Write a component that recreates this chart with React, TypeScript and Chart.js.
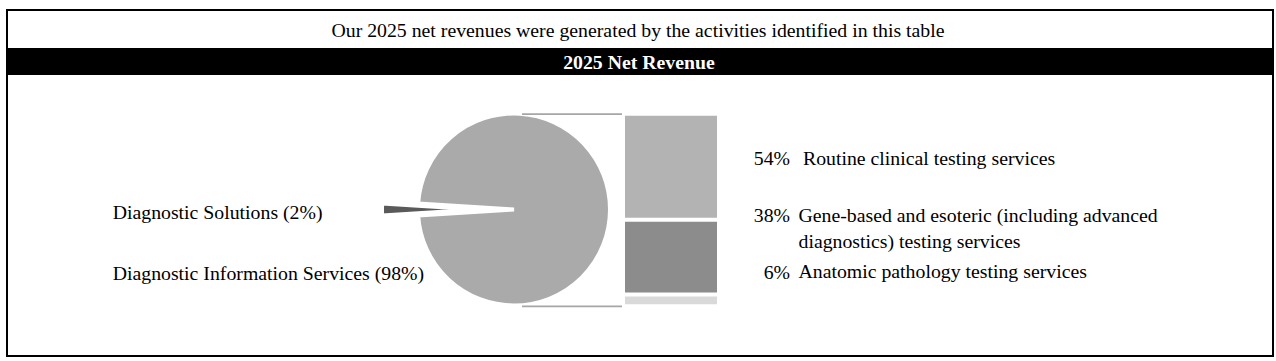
import React, { useEffect, useRef } from 'react';
import { Chart, registerables } from 'chart.js';

Chart.register(...registerables);

// ---------- data ----------
const TITLE = 'Our 2025 net revenues were generated by the activities identified in this table';
const HEADER = '2025 Net Revenue';

const pieLabels = ['Diagnostic Information Services', 'Diagnostic Solutions'];
const pieValues = [98, 2];
const pieColors = ['#aaaaaa', '#5a5a5a'];
const pieExplode = [0, 36];

const barLabels = [
  'Routine clinical testing services',
  'Gene-based and esoteric (including advanced diagnostics) testing services',
  'Anatomic pathology testing services',
];
const barValues = [54, 38, 6];
const barColors = ['#b3b3b3', '#8c8c8c', '#d9d9d9'];

// ---------- styling ----------
const FONT = '"Liberation Serif", "Times New Roman", Times, serif';
const FS = 19.8;

function Txt(props: {
  left: number;
  baseline: number;
  width?: number;
  align?: 'left' | 'right' | 'center';
  bold?: boolean;
  color?: string;
  lh?: number;
  children: React.ReactNode;
}) {
  const lh = props.lh ?? 20;
  const top = props.baseline - (lh / 2 + 0.3375 * FS);
  return (
    <div
      style={{
        position: 'absolute',
        left: props.left,
        top,
        width: props.width,
        textAlign: props.align ?? 'left',
        fontFamily: FONT,
        fontSize: FS,
        lineHeight: lh + 'px',
        fontWeight: props.bold ? 'bold' : 'normal',
        color: props.color ?? '#000',
        whiteSpace: props.width && props.align === 'left' ? 'normal' : 'nowrap',
      }}
    >
      {props.children}
    </div>
  );
}

const explodePlugin = {
  id: 'explode',
  beforeDatasetDraw(chart: any, args: any) {
    const ctx = chart.ctx;
    args.meta.data.forEach((arc: any, i: number) => {
      const d = pieExplode[i] || 0;
      const mid = (arc.startAngle + arc.endAngle) / 2;
      ctx.save();
      ctx.translate(Math.cos(mid) * d, Math.sin(mid) * d);
      arc.draw(ctx);
      ctx.restore();
    });
    return false;
  },
};

const connectorPlugin = {
  id: 'connector',
  afterDraw(chart: any) {
    const { ctx, chartArea: a } = chart;
    ctx.save();
    ctx.strokeStyle = '#a6a6a6';
    ctx.lineWidth = 1.8;
    ctx.beginPath();
    ctx.moveTo(a.left - 103, a.top + 0.5);
    ctx.lineTo(a.left - 3, a.top + 0.5);
    ctx.moveTo(a.left - 103, a.bottom);
    ctx.lineTo(a.left - 3, a.bottom);
    ctx.stroke();
    ctx.restore();
  },
};

function PieChart() {
  const ref = useRef<HTMLCanvasElement>(null);
  useEffect(() => {
    const total = pieValues.reduce((s, v) => s + v, 0);
    const chart = new Chart(ref.current!, {
      type: 'pie',
      data: {
        labels: pieLabels,
        datasets: [
          {
            data: pieValues,
            backgroundColor: pieColors,
            borderColor: '#ffffff',
            borderWidth: 4,
          },
        ],
      },
      options: {
        responsive: false,
        animation: false,
        events: [],
        radius: 96,
        rotation: 270 + (pieValues[1] / total) * 180,
        plugins: { legend: { display: false }, tooltip: { enabled: false } },
      } as any,
      plugins: [explodePlugin as any],
    });
    return () => chart.destroy();
  }, []);
  return (
    <canvas
      ref={ref}
      width={288}
      height={219}
      style={{ position: 'absolute', left: 370, top: 100, width: 288, height: 219 }}
    />
  );
}

function BarChart() {
  const ref = useRef<HTMLCanvasElement>(null);
  useEffect(() => {
    const total = barValues.reduce((s, v) => s + v, 0);
    const chart = new Chart(ref.current!, {
      type: 'bar',
      data: {
        labels: ['2025'],
        datasets: barValues.map((v, i) => ({
          label: barLabels[i],
          data: [v],
          backgroundColor: barColors[i],
          borderColor: '#ffffff',
          borderWidth: { top: 2, bottom: 2, left: 0, right: 0 },
          borderSkipped: false,
          barPercentage: 1,
          categoryPercentage: 1,
          inflateAmount: 0,
        })),
      },
      options: {
        responsive: false,
        animation: false,
        events: [],
        layout: { padding: { left: 105, right: 23, top: 13.7, bottom: 13.7 } },
        scales: {
          x: { stacked: true, display: false },
          y: { stacked: true, display: false, reverse: true, min: 0, max: total },
        },
        plugins: { legend: { display: false }, tooltip: { enabled: false } },
      } as any,
      plugins: [connectorPlugin as any],
    });
    return () => chart.destroy();
  }, []);
  return (
    <canvas
      ref={ref}
      width={220}
      height={220}
      style={{ position: 'absolute', left: 520, top: 100, width: 220, height: 220 }}
    />
  );
}

export default function App() {
  const leftBaselines = [218.3, 279.3];
  const rightBaselines = [165, 221.7, 278.3];
  // left labels: small slice first (top), then large
  const leftOrder = [1, 0];
  return (
    <div
      style={{
        position: 'absolute',
        left: 0,
        top: 0,
        width: 1276,
        height: 361,
        background: '#ffffff',
        overflow: 'hidden',
      }}
    >
      <div
        style={{
          position: 'absolute',
          left: 6,
          top: 9,
          width: 1268,
          height: 348,
          border: '2px solid #000',
          boxSizing: 'border-box',
        }}
      />
      <div
        style={{ position: 'absolute', left: 8, top: 48, width: 1264, height: 27, background: '#000' }}
      />
      <Txt left={0} baseline={37} width={1276} align="center">
        {TITLE}
      </Txt>
      <Txt left={0} baseline={68.3} width={1278} align="center" bold color="#ffffff">
        {HEADER}
      </Txt>

      {leftOrder.map((idx, k) => (
        <Txt key={'l' + idx} left={112.7} baseline={leftBaselines[k]}>
          {pieLabels[idx] + ' (' + pieValues[idx] + '%)'}
        </Txt>
      ))}

      {barValues.map((v, i) => (
        <React.Fragment key={'r' + i}>
          <Txt left={690} baseline={rightBaselines[i]} width={100} align="right">
            {v + '%'}
          </Txt>
          <Txt left={i === 0 ? 803 : 798.5} baseline={rightBaselines[i]} width={372} align="left" lh={26.6}>
            {barLabels[i]}
          </Txt>
        </React.Fragment>
      ))}

      <PieChart />
      <BarChart />
    </div>
  );
}
